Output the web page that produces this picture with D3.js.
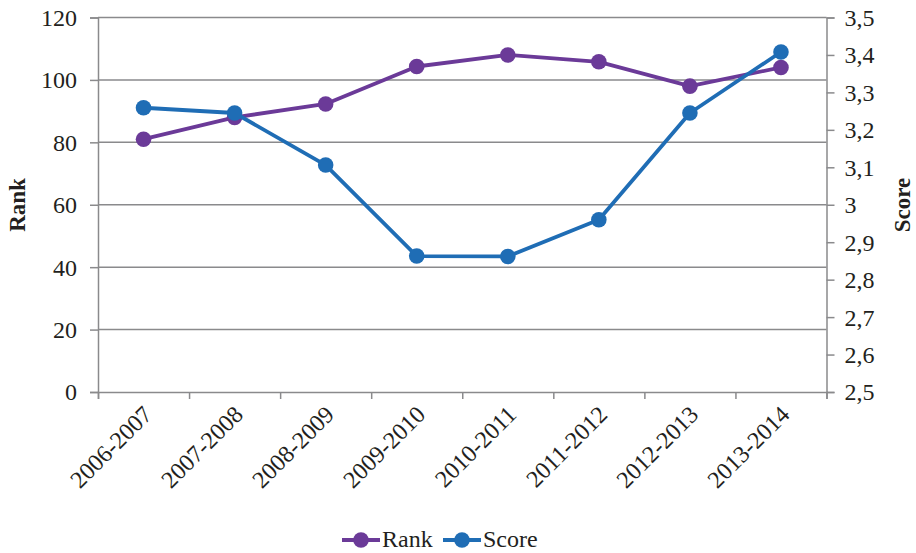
<!DOCTYPE html>
<html><head><meta charset="utf-8">
<script src="https://cdn.jsdelivr.net/npm/d3@7"></script>
<style>body{margin:0;background:#fff}</style>
</head><body><svg id="c" width="916" height="553"></svg>
<script>
const categories = ["2006-2007","2007-2008","2008-2009","2009-2010","2010-2011","2011-2012","2012-2013","2013-2014"];
const rankValues = [81, 88, 92.3, 104.3, 108, 105.8, 98, 104];
const scoreValues = [3.259, 3.245, 3.106, 2.863, 2.862, 2.96, 3.245, 3.408];
const rankTicks = [0,20,40,60,80,100,120];
const scoreTicks = [2.5,2.6,2.7,2.8,2.9,3,3.1,3.2,3.3,3.4,3.5];
const seriesNames = ["Rank","Score"];
const colors = {Rank:"#6b3a98", Score:"#1f6db5"};

const FONT = '"Liberation Serif"';
const TXT = "#231f20";
const SC = 0.8; // render at 30px scaled to 24px
const svg = d3.select("#c");
const L=98, R=826.5, T=17.5, B=392;
const x = d3.scaleBand().domain(categories).range([L,R]);
const yL = d3.scaleLinear().domain([0,120]).range([B,T]);
const yR = d3.scaleLinear().domain([2.5,3.5]).range([B,T]);
const grid="#8a8a8c";

function label(parent, px, py, str, anchor, rot){
  return parent.append("text")
    .attr("transform",`translate(${px},${py})${rot?` rotate(${rot})`:""} scale(${SC})`)
    .attr("text-anchor",anchor).attr("dy","0.35em")
    .style("font-family",FONT).style("font-size","30px").attr("fill",TXT).text(str);
}

// gridlines
svg.append("g").selectAll("line").data(rankTicks.filter(d=>d>0)).join("line")
  .attr("x1",L).attr("x2",R).attr("y1",d=>yL(d)).attr("y2",d=>yL(d))
  .attr("stroke",grid).attr("stroke-width",1.5);

const fmtComma = d => d3.format(".1~f")(d).replace(".",",");
const gl = svg.append("g").attr("transform",`translate(${L},0)`)
  .call(d3.axisLeft(yL).tickValues(rankTicks).tickSize(8).tickFormat(""));
const gr = svg.append("g").attr("transform",`translate(${R},0)`)
  .call(d3.axisRight(yR).tickValues(scoreTicks).tickSize(8).tickFormat(""));
const gb = svg.append("g").attr("transform",`translate(0,${B})`)
  .call(d3.axisBottom(d3.scalePoint().domain(d3.range(categories.length+1)).range([L,R])).tickSize(7).tickFormat(""));
[gl,gr,gb].forEach(g=>{
  g.select(".domain").attr("stroke",grid).attr("stroke-width",1.5);
  g.selectAll(".tick line").attr("stroke",grid).attr("stroke-width",1.5);
});

const labels = svg.append("g");
rankTicks.forEach(t=>label(labels, L-21, yL(t), String(t), "end"));
scoreTicks.forEach(t=>label(labels, R+18, yR(t), fmtComma(t), "start"));
categories.forEach(c=>label(labels, x(c)+x.bandwidth()/2+4, B+18, c, "end", -45));

// axis titles
svg.append("text").attr("transform",`translate(25,205) rotate(-90)`)
  .attr("text-anchor","middle").style("font-family",FONT).style("font-size","23px").style("font-weight","bold").attr("fill",TXT).text("Rank");
svg.append("text").attr("transform",`translate(910,205) rotate(-90)`)
  .attr("text-anchor","middle").style("font-family",FONT).style("font-size","23px").style("font-weight","bold").attr("fill",TXT).text("Score");

const cx = d => x(d)+x.bandwidth()/2;
function drawSeries(vals, y, color){
  const pts = categories.map((c,i)=>[cx(c), y(vals[i])]);
  svg.append("path").attr("d",d3.line()(pts)).attr("fill","none")
    .attr("stroke",color).attr("stroke-width",3.8).attr("stroke-linejoin","round");
  svg.append("g").selectAll("circle").data(pts).join("circle")
    .attr("cx",d=>d[0]).attr("cy",d=>d[1]).attr("r",7.8).attr("fill",color);
}
drawSeries(rankValues, yL, colors.Rank);
drawSeries(scoreValues, yR, colors.Score);

// legend
const legX = [342, 443], ly = 539;
seriesNames.forEach((n,i)=>{
  const g = svg.append("g");
  g.append("line").attr("x1",legX[i]).attr("x2",legX[i]+38).attr("y1",ly+1).attr("y2",ly+1)
    .attr("stroke",colors[n]).attr("stroke-width",3.8);
  g.append("circle").attr("cx",legX[i]+19).attr("cy",ly+1).attr("r",7.8).attr("fill",colors[n]);
  label(g, legX[i]+40, ly, n, "start");
});
</script></body></html>
